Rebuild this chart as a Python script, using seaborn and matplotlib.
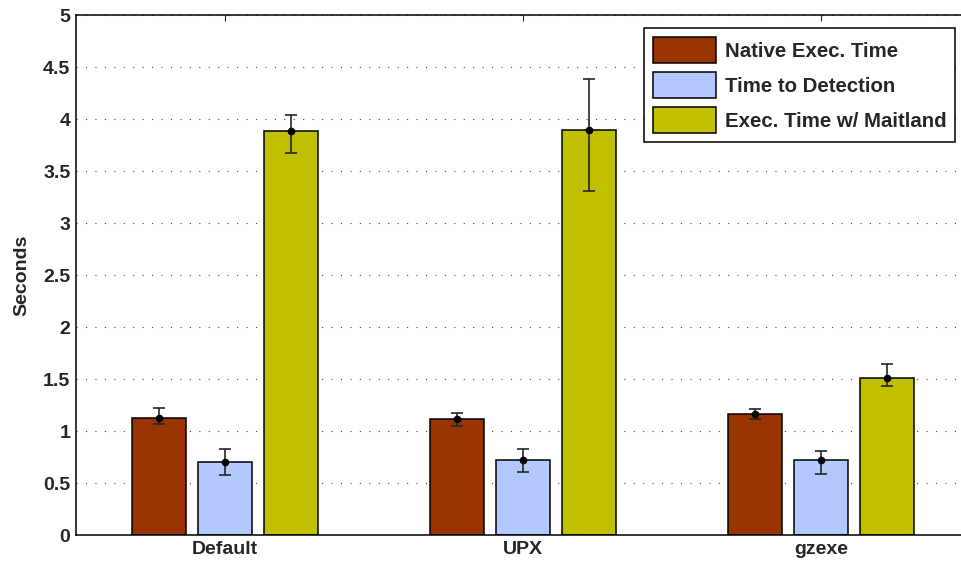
import numpy as np
import pandas as pd
import matplotlib
matplotlib.use("Agg")
import matplotlib.pyplot as plt
import seaborn as sns

# Packer configurations and measured series (seconds)
packers = ["Default", "UPX", "gzexe"]
series = ["Native Exec. Time", "Time to Detection", "Exec. Time w/ Maitland"]

native_mean = [1.125, 1.115, 1.16]
native_low = [1.07, 1.05, 1.115]
native_high = [1.22, 1.17, 1.21]

detect_mean = [0.70, 0.72, 0.72]
detect_low = [0.58, 0.61, 0.59]
detect_high = [0.83, 0.83, 0.81]

maitland_mean = [3.885, 3.89, 1.507]
maitland_low = [3.67, 3.31, 1.43]
maitland_high = [4.04, 4.385, 1.645]

colors = ["#993300", "#b3c8ff", "#c0c000"]
yticks = [0, 0.5, 1, 1.5, 2, 2.5, 3, 3.5, 4, 4.5, 5]
ytick_labels = ["0", "0.5", "1", "1.5", "2", "2.5", "3", "3.5", "4", "4.5", "5"]

means = [native_mean, detect_mean, maitland_mean]
lows = [native_low, detect_low, maitland_low]
highs = [native_high, detect_high, maitland_high]

rows = []
for s, m in zip(series, means):
    for p, v in zip(packers, m):
        rows.append({"Packer": p, "Series": s, "Seconds": v})
df = pd.DataFrame(rows)

sns.set_style("white")
plt.rcParams["font.family"] = ["Liberation Sans", "DejaVu Sans"]
plt.rcParams["font.weight"] = "bold"

W, H = 961, 564
fig = plt.figure(figsize=(W / 100, H / 100), dpi=100)
# plot box runs slightly past the right edge of the canvas
ax = fig.add_axes([76 / W, 29 / H, 894 / W, 520 / H])

sns.barplot(data=df, x="Packer", y="Seconds", hue="Series", order=packers,
            hue_order=series, palette=colors, width=0.663, gap=0.18,
            edgecolor="black", linewidth=1.1, errorbar=None, saturation=1,
            ax=ax, zorder=2)

# Error bars with dot at the mean, centred on each bar
bar_groups = list(ax.containers)
for i, container in enumerate(bar_groups):
    xs = [r.get_x() + r.get_width() / 2 for r in container.patches]
    m = np.array(means[i])
    lo = m - np.array(lows[i])
    hi = np.array(highs[i]) - m
    ax.errorbar(xs, m, yerr=[lo, hi], fmt="o", color="black", ms=4.5,
                ecolor="#262626", elinewidth=1.2, capsize=4, capthick=1.2,
                zorder=4)

ax.set_xlim(-0.5, 2.5)
ax.set_ylim(0, 5)
ax.set_yticks(yticks)
ax.set_yticklabels(ytick_labels)
ax.set_xlabel("")
ax.set_ylabel("Seconds", fontsize=14, fontweight="bold", labelpad=9)
ax.tick_params(axis="both", direction="in", labelsize=14, length=4,
               top=True, right=True, width=0.8, pad=4)
for lbl in ax.get_xticklabels() + ax.get_yticklabels():
    lbl.set_fontweight("bold")

ax.yaxis.grid(True, linestyle=(0, (1, 7.5)), color="#444444", linewidth=0.8)
ax.xaxis.grid(False)
ax.set_axisbelow(True)
for sp in ax.spines.values():
    sp.set_visible(True)
    sp.set_color("black")
    sp.set_linewidth(1.1)

leg = ax.legend(loc="upper left", bbox_to_anchor=(644 / W, 1 - 28 / H),
                bbox_transform=fig.transFigure, fontsize=14.7,
                frameon=True, fancybox=False, edgecolor="black",
                handlelength=3.1, handleheight=1.6, handletextpad=0.4,
                borderpad=0.45, labelspacing=0.42, borderaxespad=0.0)
leg.get_frame().set_linewidth(1.1)
leg.get_frame().set_alpha(1)
for t in leg.get_texts():
    t.set_fontweight("bold")

fig.savefig("out.png", dpi=100)
